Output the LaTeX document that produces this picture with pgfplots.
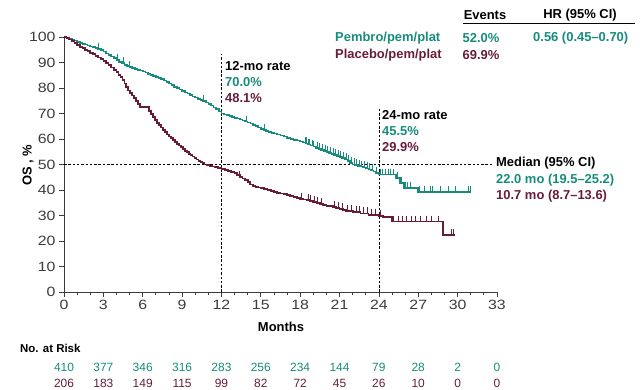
\documentclass[border=0pt]{standalone}
\usepackage{pgfplots}
\pgfplotsset{compat=1.18}
\usepackage{fontspec}
\setmainfont{Liberation Sans}
\newfontfamily\tickfont{Liberation Sans}[FakeStretch=1.18]
\definecolor{pembro}{RGB}{22,140,124}
\definecolor{placebo}{RGB}{104,28,58}
\definecolor{axcol}{RGB}{60,60,60}
\begin{document}
\begin{tikzpicture}
\useasboundingbox (0,0) rectangle (640bp,390bp);
\begin{axis}[
  at={(64bp,98bp)}, anchor=south west, scale only axis,
  width=433bp, height=255bp,
  xmin=0, xmax=33, ymin=0, ymax=100,
  axis x line*=bottom, axis y line*=left,
  axis line style={-, line width=0.8bp, axcol},
  xtick={0,3,...,33}, minor xtick={0,...,33}, ytick={0,10,...,100},
  tick align=outside, major tick length=5bp, minor tick length=3bp,
  tick style={axcol, line width=0.8bp},
  ticklabel style={font=\tickfont\fontsize{13.5}{13.5}\selectfont, text=axcol},
  /pgf/number format/assume math mode=true,
  clip=false,
]
\draw[black, line width=0.7bp, dash pattern=on 2.5bp off 1.8bp] (axis cs:12,0) -- (axis cs:12,93.5);
\draw[black, line width=0.7bp, dash pattern=on 2.5bp off 1.8bp] (axis cs:24,0) -- (axis cs:24,72.5);
\draw[black, line width=0.7bp, dash pattern=on 2.5bp off 1.8bp] (axis cs:0,50) -- (axis cs:32.6,50);

\addplot[const plot, pembro, line width=1.6bp] coordinates {
(0,100) (0.2,99.8) (0.4,99.4) (0.6,99.0) (0.8,98.6) (1.0,98.0) (1.2,97.6) (1.4,97.3) (1.6,97.0)
(1.8,96.7) (2.0,96.3) (2.2,96.0) (2.4,95.6) (2.6,95.3) (2.8,94.9) (3.0,94.3) (3.2,93.6)
(3.4,93.0) (3.6,92.3) (3.8,91.7) (4.0,91.0) (4.2,90.3) (4.4,89.7) (4.6,89.1) (4.8,88.6)
(5.0,88.2) (5.2,87.9) (5.4,87.5) (5.6,87.1) (5.8,86.8) (6.0,86.4) (6.2,86.0) (6.4,85.6)
(6.6,85.2) (6.8,84.8) (7.0,84.4) (7.2,84.0) (7.4,83.5) (7.6,83.0) (7.8,82.3) (8.0,81.7)
(8.2,81.1) (8.4,80.5) (8.6,80.0) (8.8,79.4) (9.0,78.9) (9.2,78.3) (9.4,77.8) (9.6,77.3)
(9.8,76.7) (10.0,76.2) (10.2,75.7) (10.4,75.2) (10.6,74.8) (10.8,74.3) (11.0,73.7)
(11.2,73.1) (11.4,72.4) (11.6,71.7) (11.8,70.8) (12.0,70.0) (12.2,69.6) (12.4,69.3)
(12.6,69.0) (12.8,68.7) (13.0,68.3) (13.2,68.0) (13.4,67.7) (13.6,67.3) (13.8,66.8)
(14.0,66.4) (14.2,66.0) (14.4,65.6) (14.6,65.0) (14.8,64.5) (15.0,64.0) (15.2,63.5)
(15.4,63.1) (15.6,62.7) (15.8,62.4) (16.0,62.1) (16.25,61.8) (16.5,61.4) (16.75,61.0)
(17.0,60.5) (17.25,60.1) (17.5,59.7) (17.75,59.4) (18.0,59.0) (18.2,58.6) (18.4,58.3)
(18.6,57.8) (18.8,57.4) (19.0,57.0) (19.2,56.5) (19.4,56.1) (19.6,55.7) (19.8,55.3)
(20.0,54.9) (20.2,54.5) (20.4,54.1) (20.6,53.8) (20.8,53.4) (21.0,53.0) (21.2,52.6)
(21.4,52.0) (21.6,51.4) (21.8,50.7) (22.0,50.0) (22.2,49.8) (22.4,49.5) (22.6,49.2)
(22.8,48.9) (23.0,48.5) (23.2,48.1) (23.4,47.7) (23.6,47.3) (23.8,46.6) (24.0,46.0)
(25.3,44.8) (25.6,42.8) (25.9,40.8) (27.0,39.3) (31.0,39.3)
};
\addplot[only marks, pembro, mark=|, mark size=3bp, mark options={yshift=3bp, line width=0.8bp}] coordinates {
(2.6,95.3) (4.1,91.0) (4.5,89.7) (5.0,88.2) (10.6,74.8) (13.9,66.8) (15.3,63.5)
(18.4,58.3) (18.5,58.3) (18.6,57.8) (18.7,57.8) (18.9,57.4) (19.0,57.0) (19.3,56.5)
(19.5,56.1) (19.7,55.7) (19.9,55.3) (20.1,54.9) (20.3,54.5) (20.5,54.1) (20.7,53.8)
(20.9,53.4) (21.1,53.0) (21.3,52.6) (21.5,52.0) (21.7,51.4) (21.9,50.7) (22.1,50.0)
(22.3,49.8) (22.5,49.5) (22.7,49.2) (22.9,48.9) (23.1,48.5) (23.3,48.1) (23.5,47.7)
(23.8,46.6) (24.1,46.0) (24.3,46.0) (24.5,46.0) (24.7,46.0) (24.9,46.0) (25.1,46.0)
(25.4,44.8) (25.7,42.8) (26.0,40.8) (26.2,40.8) (26.4,40.8) (27.1,39.3) (27.5,39.3)
(27.9,39.3) (28.1,39.3) (28.7,39.3) (29.3,39.3) (29.8,39.3) (30.8,39.3) (31.0,39.3)
};

\addplot[const plot, placebo, line width=1.7bp] coordinates {
(0,100) (0.2,99.6) (0.4,99.0) (0.6,98.3) (0.8,97.6) (1.0,96.9) (1.2,96.2) (1.4,95.6)
(1.6,95.0) (1.8,94.4) (2.0,93.8) (2.2,93.2) (2.4,92.6) (2.6,92.0) (2.8,91.4) (3.0,90.6)
(3.2,89.8) (3.4,88.9) (3.6,88.0) (3.8,87.1) (4.0,86.2) (4.15,85.2) (4.3,84.2) (4.45,83.0)
(4.6,81.8) (4.75,80.4) (4.9,79.0) (5.05,78.0) (5.2,77.0) (5.35,76.0) (5.5,75.0)
(5.65,73.8) (5.8,72.6) (6.5,71.0) (6.65,69.8) (6.8,68.6) (6.95,67.4) (7.1,66.3)
(7.25,65.4) (7.4,64.5) (7.55,63.6) (7.7,62.7) (7.85,61.8) (8.0,61.0) (8.15,60.3)
(8.3,59.6) (8.45,58.8) (8.6,58.0) (8.75,57.4) (8.9,56.8) (9.05,56.1) (9.2,55.4)
(9.35,54.8) (9.5,54.2) (9.65,53.6) (9.8,53.1) (9.95,52.5) (10.1,52.0) (10.25,51.5)
(10.4,51.0) (10.55,50.5) (10.7,50.0) (10.9,49.8) (11.1,49.5) (11.3,49.2) (11.5,49.0)
(11.75,48.5) (12.0,48.1) (12.25,47.8) (12.5,47.4) (12.75,47.0) (13.0,46.6) (13.2,45.9)
(13.4,45.2) (13.6,44.5) (13.8,43.8) (14.0,43.0) (14.2,42.2) (14.4,41.7) (14.6,41.3)
(14.8,41.0) (15.0,40.7) (15.25,40.3) (15.5,40.0) (15.75,39.6) (16.0,39.2) (16.25,38.9)
(16.5,38.6) (16.75,38.3) (17.0,38.0) (17.25,37.6) (17.5,37.3) (17.75,36.9) (18.0,36.6)
(18.25,36.3) (18.5,36.0) (18.75,35.6) (19.0,35.3) (19.25,34.9) (19.5,34.6) (19.75,34.2)
(20.0,33.8) (20.5,33.3) (20.75,32.9) (21.0,32.6) (21.25,32.2) (21.5,31.9) (22.0,31.4)
(22.6,30.8) (23.2,30.3) (24.0,29.9) (24.3,29.3) (25.0,27.6) (28.9,22.4) (29.8,22.4)
};
\addplot[only marks, placebo, mark=|, mark size=3bp, mark options={yshift=3bp, line width=0.8bp}] coordinates {
(13.4,45.2) (18.1,36.6) (18.6,36.0) (18.8,35.6) (19.1,35.3) (19.3,34.9) (19.6,34.6)
(20.6,33.3) (20.9,32.9) (21.2,32.6) (21.6,31.9) (21.9,31.9) (22.3,31.4) (22.5,31.4)
(22.8,30.8) (23.1,30.8) (23.4,30.3) (23.7,30.3) (24.1,29.9) (25.1,27.6) (25.5,27.6)
(25.8,27.6) (26.1,27.6) (26.5,27.6) (26.8,27.6) (27.2,27.6) (27.6,27.6) (28.0,27.6)
(28.5,27.6) (29.5,22.4) (29.7,22.4)
};
\end{axis}

% header / legend
\begin{scope}[every node/.style={font=\fontsize{13}{13}\selectfont\bfseries, inner sep=0pt}]
\node at (485bp,375bp) {Events};
\node at (580bp,375bp) {HR (95\% CI)};
\draw[line width=0.9bp] (463bp,367bp) -- (635bp,367bp);
\node[anchor=west, text=pembro] at (335bp,352bp) {Pembro/pem/plat};
\node[text=pembro] at (481bp,352bp) {52.0\%};
\node[anchor=west, text=pembro] at (533bp,352bp) {0.56 (0.45–0.70)};
\node[anchor=west, text=placebo] at (335bp,335bp) {Placebo/pem/plat};
\node[text=placebo] at (481bp,335bp) {69.9\%};

\node[anchor=west] at (225bp,324bp) {12-mo rate};
\node[anchor=west, text=pembro] at (225bp,308bp) {70.0\%};
\node[anchor=west, text=placebo] at (225bp,292bp) {48.1\%};

\node[anchor=west] at (382bp,275bp) {24-mo rate};
\node[anchor=west, text=pembro] at (382bp,259bp) {45.5\%};
\node[anchor=west, text=placebo] at (382bp,243bp) {29.9\%};

\node[anchor=west] at (496bp,227bp) {Median (95\% CI)};
\node[anchor=west, text=pembro] at (496bp,210bp) {22.0 mo (19.5–25.2)};
\node[anchor=west, text=placebo] at (496bp,194bp) {10.7 mo (8.7–13.6)};

\node at (281bp,63bp) {Months};
\node[rotate=90] at (28bp,225bp) {OS , \%};
\node[anchor=west, font=\fontsize{11.5}{11.5}\selectfont\bfseries] at (20bp,42bp) {No. at Risk};
\end{scope}

% numbers at risk
\begin{scope}[every node/.style={font=\fontsize{12}{12}\selectfont, inner sep=0pt}]
\foreach \n [count=\k from 0] in {410,377,346,316,283,256,234,144,79,28,2,0}
  \node[text=pembro] at ({(64+39.36*\k)*1bp},23bp) {\n};
\foreach \n [count=\k from 0] in {206,183,149,115,99,82,72,45,26,10,0,0}
  \node[text=placebo] at ({(64+39.36*\k)*1bp},7bp) {\n};
\end{scope}
\end{tikzpicture}
\end{document}
